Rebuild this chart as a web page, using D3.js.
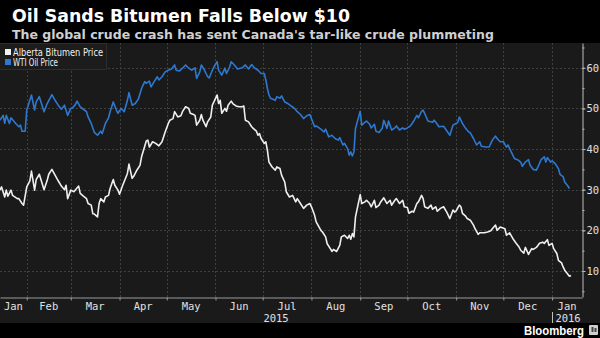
<!DOCTYPE html>
<html><head><meta charset="utf-8">
<script src="https://cdn.jsdelivr.net/npm/d3@7"></script>
<style>html,body{margin:0;padding:0;background:#000;} svg{display:block}</style>
</head><body><svg id="c" width="600" height="338"></svg>
<script>
// ---------- data ----------
const titleText = "Oil Sands Bitumen Falls Below $10";
const subtitleText = "The global crude crash has sent Canada's tar-like crude plummeting";
const seriesNames = ["Alberta Bitumen Price", "WTI Oil Price"];
const yTicks = [10, 20, 30, 40, 50, 60];
const monthLabels = ["Jan","Feb","Mar","Apr","May","Jun","Jul","Aug","Sep","Oct","Nov","Dec","Jan"];
const yearLabels = ["2015", "2016"];

const wtiDates = ["2015-01-15","2015-01-17","2015-01-18","2015-01-19","2015-01-21","2015-01-22","2015-01-25","2015-01-27","2015-01-28","2015-01-29","2015-01-31",
"2015-02-01","2015-02-02","2015-02-04","2015-02-06","2015-02-07","2015-02-09","2015-02-12","2015-02-14","2015-02-17","2015-02-19","2015-02-21","2015-02-23","2015-02-25","2015-02-27",
"2015-03-01","2015-03-02","2015-03-04","2015-03-05","2015-03-07","2015-03-09","2015-03-11","2015-03-12","2015-03-14","2015-03-16","2015-03-18","2015-03-20","2015-03-21","2015-03-23","2015-03-25","2015-03-26","2015-03-28","2015-03-30","2015-03-31",
"2015-04-02","2015-04-04","2015-04-06","2015-04-07","2015-04-09","2015-04-11","2015-04-13","2015-04-15","2015-04-17","2015-04-18","2015-04-20","2015-04-21","2015-04-23","2015-04-25","2015-04-26","2015-04-28","2015-04-30",
"2015-05-02","2015-05-04","2015-05-06","2015-05-07","2015-05-09","2015-05-11","2015-05-13","2015-05-15","2015-05-17","2015-05-19","2015-05-20","2015-05-22","2015-05-23","2015-05-25","2015-05-27","2015-05-28","2015-05-30","2015-05-31",
"2015-06-02","2015-06-03","2015-06-05","2015-06-07","2015-06-08","2015-06-10","2015-06-11","2015-06-13","2015-06-15","2015-06-18","2015-06-20","2015-06-22","2015-06-24","2015-06-26","2015-06-28","2015-06-30",
"2015-07-02","2015-07-03","2015-07-04","2015-07-05","2015-07-06","2015-07-09","2015-07-10","2015-07-12","2015-07-13","2015-07-15","2015-07-17","2015-07-19","2015-07-21","2015-07-23","2015-07-25","2015-07-27","2015-07-29","2015-07-31",
"2015-08-01","2015-08-03","2015-08-04","2015-08-07","2015-08-09","2015-08-10","2015-08-12","2015-08-14","2015-08-16","2015-08-18","2015-08-19","2015-08-21","2015-08-22","2015-08-24","2015-08-25","2015-08-26","2015-08-27","2015-08-28","2015-08-29",
"2015-09-01","2015-09-02","2015-09-04","2015-09-05","2015-09-07","2015-09-08","2015-09-10","2015-09-11","2015-09-13","2015-09-15","2015-09-16","2015-09-18","2015-09-19","2015-09-21","2015-09-23","2015-09-24","2015-09-26","2015-09-28","2015-09-29",
"2015-10-01","2015-10-03","2015-10-05","2015-10-07","2015-10-08","2015-10-10","2015-10-11","2015-10-13","2015-10-14","2015-10-17","2015-10-18","2015-10-20","2015-10-21","2015-10-24","2015-10-26","2015-10-28","2015-10-30","2015-10-31",
"2015-11-02","2015-11-03","2015-11-05","2015-11-07","2015-11-09","2015-11-10","2015-11-12","2015-11-14","2015-11-16","2015-11-17","2015-11-20","2015-11-22","2015-11-24","2015-11-26","2015-11-27","2015-11-29",
"2015-12-01","2015-12-03","2015-12-04","2015-12-06","2015-12-08","2015-12-10","2015-12-12","2015-12-13","2015-12-15","2015-12-17","2015-12-18","2015-12-20","2015-12-22","2015-12-23","2015-12-25","2015-12-27","2015-12-28","2015-12-29","2015-12-31",
"2016-01-01","2016-01-03","2016-01-05","2016-01-06","2016-01-08","2016-01-09","2016-01-11","2016-01-12"];
const wtiValues = [47.1,48.3,46.3,48.3,46.3,47.7,46.3,45.5,45.9,44.4,44.4,
49.6,50.8,53.3,49.6,51.6,52.9,49.2,51.2,53.4,52.0,50.8,49.8,50.8,48.3,
50.0,50.1,51.0,51.8,50.4,49.8,49.2,47.9,46.3,44.1,43.4,44.4,43.8,46.3,47.7,49.2,51.6,49.6,48.8,
50.0,49.2,52.0,53.9,50.8,51.2,52.3,54.9,56.6,56.2,56.7,55.3,56.6,57.8,57.0,57.8,59.0,
59.4,59.7,60.7,59.4,59.2,59.9,60.7,59.9,59.4,60.0,57.4,59.0,60.7,59.4,57.8,57.5,59.4,60.2,
61.5,59.4,58.2,59.9,58.6,60.2,61.5,60.7,59.7,60.0,60.7,59.7,60.8,59.9,59.4,58.6,
58.6,57.0,54.9,53.3,52.5,52.0,52.9,52.5,53.1,51.6,51.2,50.6,50.1,49.2,48.5,47.5,48.2,48.5,
47.5,45.5,45.7,44.9,44.2,44.9,43.0,43.4,42.6,42.2,42.8,41.0,41.4,40.1,38.5,39.3,38.3,39.3,45.1,
49.3,45.9,46.6,46.9,46.1,45.2,46.1,44.4,44.1,45.1,47.1,45.1,46.9,44.7,45.2,45.7,44.7,45.2,44.9,
45.2,45.7,46.9,48.3,47.7,49.3,49.6,47.9,46.9,46.6,47.1,46.1,45.5,45.6,44.5,43.4,45.9,46.1,
46.5,47.9,46.3,45.1,44.2,44.0,42.6,41.0,41.8,40.7,40.5,40.5,42.2,43.2,42.6,41.8,
41.8,40.5,41.0,39.3,37.7,37.4,36.8,35.8,36.8,37.4,36.0,35.0,34.8,35.6,37.4,38.1,36.8,37.9,36.8,
37.1,36.4,35.2,33.8,33.2,31.9,30.9,30.3];

const bitDates = ["2015-01-15","2015-01-16","2015-01-18","2015-01-19","2015-01-20","2015-01-22","2015-01-23","2015-01-26","2015-01-27","2015-01-29","2015-01-30",
"2015-02-01","2015-02-03","2015-02-04","2015-02-06","2015-02-07","2015-02-09","2015-02-12","2015-02-14","2015-02-15","2015-02-17","2015-02-19","2015-02-21","2015-02-23","2015-02-25","2015-02-26","2015-02-27",
"2015-03-01","2015-03-03","2015-03-04","2015-03-06","2015-03-07","2015-03-09","2015-03-11","2015-03-12","2015-03-14","2015-03-15","2015-03-16","2015-03-18","2015-03-19","2015-03-20","2015-03-22","2015-03-23","2015-03-25","2015-03-26","2015-03-28","2015-03-29","2015-03-31",
"2015-04-01","2015-04-03","2015-04-05","2015-04-06","2015-04-07","2015-04-09","2015-04-10","2015-04-12","2015-04-14","2015-04-15","2015-04-17","2015-04-18","2015-04-19","2015-04-20","2015-04-22","2015-04-24","2015-04-26","2015-04-28","2015-04-30",
"2015-05-02","2015-05-03","2015-05-05","2015-05-06","2015-05-08","2015-05-10","2015-05-11","2015-05-13","2015-05-15","2015-05-16","2015-05-18","2015-05-19","2015-05-20","2015-05-22","2015-05-23","2015-05-24","2015-05-26","2015-05-27","2015-05-29","2015-05-30","2015-05-31",
"2015-06-02","2015-06-03","2015-06-04","2015-06-05","2015-06-07","2015-06-08","2015-06-09","2015-06-11","2015-06-12","2015-06-14","2015-06-16","2015-06-18","2015-06-19","2015-06-20","2015-06-22","2015-06-24","2015-06-25","2015-06-27","2015-06-28","2015-06-29","2015-06-30",
"2015-07-02","2015-07-03","2015-07-04","2015-07-05","2015-07-07","2015-07-09","2015-07-10","2015-07-12","2015-07-13","2015-07-15","2015-07-16","2015-07-18","2015-07-20","2015-07-22","2015-07-23","2015-07-25","2015-07-27","2015-07-29","2015-07-31",
"2015-08-01","2015-08-03","2015-08-04","2015-08-07","2015-08-08","2015-08-10","2015-08-11","2015-08-13","2015-08-14","2015-08-15","2015-08-17","2015-08-19","2015-08-20","2015-08-22","2015-08-24","2015-08-25","2015-08-26","2015-08-27","2015-08-28","2015-08-29",
"2015-09-01","2015-09-02","2015-09-04","2015-09-05","2015-09-07","2015-09-08","2015-09-10","2015-09-11","2015-09-13","2015-09-14","2015-09-16","2015-09-18","2015-09-20","2015-09-21","2015-09-23","2015-09-24","2015-09-26","2015-09-28","2015-09-29",
"2015-10-01","2015-10-02","2015-10-04","2015-10-05","2015-10-07","2015-10-08","2015-10-10","2015-10-11","2015-10-12","2015-10-14","2015-10-16","2015-10-17","2015-10-19","2015-10-20","2015-10-22","2015-10-24","2015-10-26","2015-10-27","2015-10-28","2015-10-30","2015-10-31",
"2015-11-01","2015-11-03","2015-11-04","2015-11-05","2015-11-07","2015-11-08","2015-11-10","2015-11-12","2015-11-13","2015-11-15","2015-11-16","2015-11-19","2015-11-21","2015-11-23","2015-11-24","2015-11-26","2015-11-27","2015-11-29",
"2015-12-02","2015-12-03","2015-12-05","2015-12-07","2015-12-09","2015-12-11","2015-12-12","2015-12-14","2015-12-15","2015-12-17","2015-12-19","2015-12-20","2015-12-22","2015-12-24","2015-12-26","2015-12-27","2015-12-29","2015-12-30",
"2016-01-01","2016-01-02","2016-01-04","2016-01-05","2016-01-07","2016-01-08","2016-01-09","2016-01-11","2016-01-12","2016-01-13"];
const bitValues = [29.9,30.7,28.2,29.9,28.4,29.9,28.6,27.8,27.8,26.6,26.2,
30.7,32.2,34.6,29.9,32.5,33.8,30.0,32.3,33.8,35.0,33.6,32.2,30.9,30.0,31.1,27.8,
29.9,29.5,30.0,30.9,29.1,28.4,27.8,26.6,26.2,24.1,24.0,23.3,26.6,27.8,27.0,28.2,28.6,30.3,32.5,31.1,29.9,
28.9,31.1,33.0,34.0,36.3,32.8,33.3,34.8,36.0,38.1,40.7,42.0,42.2,40.5,41.8,41.4,40.8,41.8,44.2,
46.3,47.1,47.5,49.2,47.9,48.2,49.2,50.4,50.0,48.8,48.5,48.3,45.9,47.1,48.5,47.1,45.5,46.7,47.9,50.8,51.6,
53.3,51.2,52.0,48.8,50.0,49.3,50.8,51.8,51.2,50.6,50.4,50.4,50.6,47.1,46.7,45.5,45.1,44.4,43.4,43.8,42.6,
41.4,41.8,39.7,36.8,35.6,34.8,35.6,35.2,33.6,31.9,29.5,28.2,28.6,27.0,27.8,26.6,25.4,26.2,26.6,
25.8,23.7,22.1,20.0,19.6,18.4,16.7,15.5,14.8,15.3,14.8,16.3,18.4,18.8,18.0,18.8,17.8,19.2,18.4,23.3,
28.8,26.6,27.0,27.4,26.6,25.8,27.4,25.6,26.2,27.0,28.0,26.6,27.4,26.2,27.4,27.8,26.6,27.4,25.8,
25.6,24.2,24.7,24.5,26.6,27.0,28.6,27.8,25.8,25.4,26.2,25.2,25.8,24.7,25.4,25.8,24.5,23.7,22.9,25.0,24.5,
24.8,26.2,25.8,24.2,23.5,22.9,22.5,21.3,20.4,19.0,19.4,19.4,19.6,19.9,20.4,21.3,20.0,20.8,
20.4,18.8,19.4,18.0,16.9,15.9,15.1,14.4,15.8,14.1,15.5,15.3,15.8,16.8,17.1,16.8,17.7,16.3,
16.8,15.5,14.3,12.6,12.0,11.0,10.2,9.2,8.7,8.9];

// ---------- chart ----------
const W = 600, H = 338;
const P = {left: 0, right: 582, top: 43, bottom: 297};
const parse = d3.utcParse("%Y-%m-%d");
const svg = d3.select("#c");

svg.append("rect").attr("width", W).attr("height", H).attr("fill", "#000");
svg.append("rect").attr("x", 0).attr("y", 43).attr("width", W).attr("height", 280).attr("fill", "#1a1a1a");

const x0 = parse("2015-01-15"), x1 = parse("2016-01-20");
const x = d3.scaleUtc().domain([x0, x1]).range([P.left, P.right]);
const y = d3.scaleLinear().domain([3.6, 66.1]).range([P.bottom, P.top]);

const monthStarts = d3.utcMonth.range(parse("2015-02-01"), parse("2016-01-02"));

// grid
const grid = svg.append("g").attr("stroke", "#404040").attr("stroke-dasharray", "2,2").attr("stroke-width", 1);
grid.selectAll("line.h").data(yTicks).join("line")
  .attr("x1", P.left).attr("x2", P.right)
  .attr("y1", d => Math.round(y(d)) + 0.5).attr("y2", d => Math.round(y(d)) + 0.5);
grid.selectAll("line.v").data(monthStarts).join("line")
  .attr("x1", d => Math.round(x(d)) + 0.5).attr("x2", d => Math.round(x(d)) + 0.5)
  .attr("y1", P.top).attr("y2", P.bottom);

// lines
svg.append("defs").append("clipPath").attr("id", "clip")
  .append("rect").attr("x", P.left).attr("y", P.top).attr("width", P.right - P.left).attr("height", P.bottom - P.top);
const line = d3.line().x(d => x(d[0])).y(d => y(d[1]));
const wti = wtiDates.map((d, i) => [parse(d), wtiValues[i]]);
const bit = bitDates.map((d, i) => [parse(d), bitValues[i]]);
const lg = svg.append("g").attr("clip-path", "url(#clip)");
lg.append("path").datum(wti).attr("d", line).attr("fill", "none").attr("stroke", "#2d78d0").attr("stroke-width", 1.6).attr("stroke-linejoin", "round");
lg.append("path").datum(bit).attr("d", line).attr("fill", "none").attr("stroke", "#efefef").attr("stroke-width", 1.6).attr("stroke-linejoin", "round");

// right axis
const yAxisG = svg.append("g").attr("transform", `translate(${P.right + 0.5},0)`);
yAxisG.call(d3.axisRight(y).tickValues(d3.range(5, 66, 5)).tickSize(2).tickSizeOuter(0).tickFormat(""));
const yAxisMajor = svg.append("g").attr("transform", `translate(${P.right + 0.5},0)`)
  .call(d3.axisRight(y).tickValues(yTicks).tickSize(3).tickPadding(1).tickSizeOuter(0).tickFormat(d3.format("d")));
[yAxisG, yAxisMajor].forEach(g => {
  g.select(".domain").attr("stroke", "#bdbdbd");
  g.selectAll(".tick line").attr("stroke", "#bdbdbd");
});
yAxisMajor.select(".domain").remove();
yAxisMajor.selectAll(".tick text").attr("fill", "#e0e0e0").attr("font-family", "DejaVu Sans Mono").attr("font-size", 10.5);

// bottom axis
const xAxisG = svg.append("g").attr("transform", `translate(0,${P.bottom + 0.5})`)
  .call(d3.axisBottom(x).tickValues(monthStarts).tickSize(3).tickSizeOuter(0).tickFormat(""));
xAxisG.select(".domain").attr("stroke", "#9a9a9a");
xAxisG.selectAll(".tick line").attr("stroke", "#9a9a9a");

const allMonths = d3.utcMonth.range(parse("2015-01-01"), parse("2016-02-01"));
svg.append("g").selectAll("text").data(allMonths).join("text")
  .attr("x", d => {
    const a = d < x0 ? x0 : d;
    const nb = d3.utcMonth.offset(d, 1);
    const b = nb > x1 ? x1 : nb;
    return (x(a) + x(b)) / 2;
  })
  .attr("y", 310).attr("text-anchor", "middle")
  .attr("fill", "#e0e0e0").attr("font-family", "DejaVu Sans Mono").attr("font-size", 10.5)
  .text((d, i) => monthLabels[i]);

const jan16 = parse("2016-01-01");
svg.append("text").attr("x", (x(x0) + x(jan16)) / 2).attr("y", 322).attr("text-anchor", "middle")
  .attr("fill", "#e0e0e0").attr("font-family", "DejaVu Sans Mono").attr("font-size", 10.5).text(yearLabels[0]);
svg.append("text").attr("x", (x(jan16) + x(x1)) / 2 + 1).attr("y", 322).attr("text-anchor", "middle")
  .attr("fill", "#e0e0e0").attr("font-family", "DejaVu Sans Mono").attr("font-size", 10.5).text(yearLabels[1]);
svg.append("line").attr("x1", Math.round(x(jan16)) + 0.5).attr("x2", Math.round(x(jan16)) + 0.5)
  .attr("y1", 312).attr("y2", 323).attr("stroke", "#bdbdbd");

// legend
const leg = svg.append("g");
leg.append("rect").attr("x", -0.5).attr("y", 43.5).attr("width", 107).attr("height", 26)
  .attr("fill", "#1c1c1c").attr("stroke", "#2e2e2e");
const legColors = ["#f2f2f2", "#2d78d0"];
seriesNames.forEach((n, i) => {
  leg.append("rect").attr("x", 5).attr("y", 49 + i * 10).attr("width", 6).attr("height", 6).attr("fill", legColors[i]);
  leg.append("text").attr("x", 13).attr("y", 55.5 + i * 10)
    .attr("fill", "#f0f0f0").attr("font-family", "Liberation Sans Narrow, DejaVu Sans Condensed, Liberation Sans, sans-serif")
    .attr("font-size", 10).attr("textLength", i === 0 ? 90 : 45).attr("lengthAdjust", "spacingAndGlyphs").text(n);
});

// titles
svg.append("text").attr("x", 12).attr("y", 21.5).attr("fill", "#fff")
  .attr("font-family", "DejaVu Sans").attr("font-weight", "bold").attr("font-size", 18)
  .attr("textLength", 338).attr("lengthAdjust", "spacingAndGlyphs").text(titleText);
svg.append("text").attr("x", 12).attr("y", 38.5).attr("fill", "#cfcfcf")
  .attr("font-family", "DejaVu Sans").attr("font-weight", "bold").attr("font-size", 12)
  .attr("textLength", 482).attr("lengthAdjust", "spacingAndGlyphs").text(subtitleText);

// Bloomberg mark
svg.append("text").attr("x", 584).attr("y", 335).attr("text-anchor", "end").attr("fill", "#fff")
  .attr("font-family", "Liberation Sans, Arial, sans-serif").attr("font-weight", "bold").attr("font-size", 12)
  .attr("textLength", 60).attr("lengthAdjust", "spacingAndGlyphs").text("Bloomberg");
svg.append("rect").attr("x", 589).attr("y", 325).attr("width", 9).attr("height", 10).attr("rx", 1).attr("fill", "#cfcfcf");
svg.append("path").attr("d", "M591.5 327v5h2v-5zM594.5 328v4h2v-4z").attr("fill", "#444");
</script></body></html>
